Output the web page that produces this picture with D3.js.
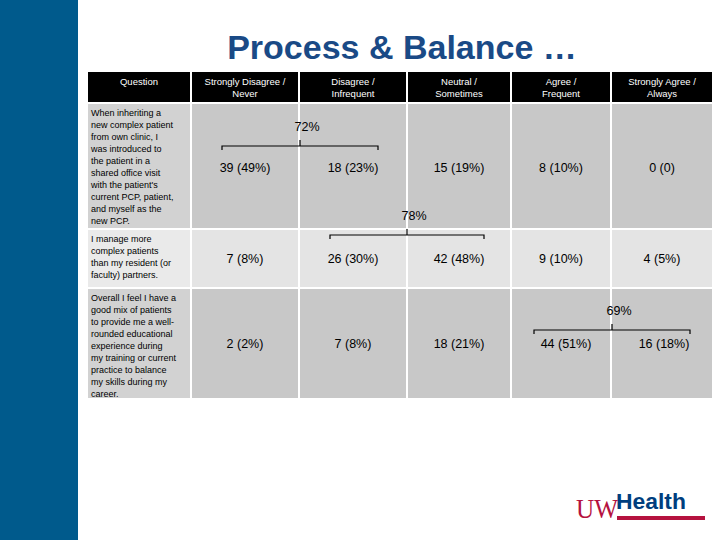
<!DOCTYPE html><html><head><meta charset="utf-8">
<script src="https://cdn.jsdelivr.net/npm/d3@7"></script>
<style>body{margin:0;background:#fff}</style></head><body>
<svg id="c" width="720" height="540"></svg>
<script>
const headers=["Question","Strongly Disagree / Never","Disagree / Infrequent","Neutral / Sometimes","Agree / Frequent","Strongly Agree / Always"];
const questions=[
["When inheriting a","new complex patient","from own clinic, I","was introduced to","the patient in a","shared office visit","with the patient's","current PCP, patient,","and myself as the","new PCP."],
["I manage more","complex patients","than my resident (or","faculty) partners."],
["Overall I feel I have a","good mix of patients","to provide me a well-","rounded educational","experience during","my training or current","practice to balance","my skills during my","career."]];
const values=[["39 (49%)","18 (23%)","15 (19%)","8 (10%)","0 (0)"],["7 (8%)","26 (30%)","42 (48%)","9 (10%)","4 (5%)"],["2 (2%)","7 (8%)","18 (21%)","44 (51%)","16 (18%)"]];
const brackets=[{row:0,from:0,to:1,label:"72%"},{row:1,from:1,to:2,label:"78%"},{row:2,from:3,to:4,label:"69%"}];
const colEdges=[88,192,300,408,512,612,714];
const rowEdges=[72,104,230,289,400];
const rowFill=["#c8c8c8","#e4e4e4","#c8c8c8"];
const svg=d3.select("#c");
const F="Arial, 'Liberation Sans', sans-serif";
svg.append("rect").attr("x",0).attr("y",0).attr("width",78).attr("height",540).attr("fill","#005a8c");
svg.append("text").attr("x",402).attr("y",59).attr("text-anchor","middle").attr("font-family",F).attr("font-weight","bold").attr("font-size",34).attr("fill","#1a4a86").text("Process & Balance …");
const x=i=>colEdges[i];
headers.forEach((h,i)=>{
 svg.append("rect").attr("x",x(i)).attr("y",rowEdges[0]).attr("width",x(i+1)-x(i)-2).attr("height",rowEdges[1]-rowEdges[0]-2).attr("fill","#000");
 const parts=h.includes(" / ")?[h.split(" / ")[0]+" /",h.split(" / ")[1]]:[h];
 const cx=(x(i)+x(i+1)-2)/2;
 parts.forEach((p,j)=>svg.append("text").attr("x",cx).attr("y",parts.length==1?85:85+j*12).attr("text-anchor","middle").attr("font-family",F).attr("font-size",9.5).attr("fill","#fff").text(p));
});
questions.forEach((q,r)=>{
 const y0=rowEdges[r+1],y1=rowEdges[r+2]-2;
 svg.append("rect").attr("x",x(0)).attr("y",y0).attr("width",x(1)-x(0)-2).attr("height",y1-y0).attr("fill",r==1?"#eaeaea":"#d2d2d2");
 q.forEach((l,j)=>svg.append("text").attr("x",x(0)+3).attr("y",y0+12+j*12).attr("font-family",F).attr("font-size",9).attr("fill","#000").text(l));
 values[r].forEach((v,c)=>{
  svg.append("rect").attr("x",x(c+1)).attr("y",y0).attr("width",x(c+2)-x(c+1)-2).attr("height",y1-y0).attr("fill",rowFill[r]);
 });
});
const vy=[172,263,348];
values.forEach((row,r)=>row.forEach((v,c)=>{
 let cx=(x(c+1)+x(c+2)-2)/2;
 if(r==2&&c==3)cx=566; if(r==2&&c==4)cx=664;
 svg.append("text").attr("x",cx).attr("y",vy[r]).attr("text-anchor","middle").attr("font-family",F).attr("font-size",12.5).attr("fill","#000").text(v);
}));
const by=[146,235,330];
brackets.forEach(b=>{
 const cA=(x(b.from+1)+x(b.from+2))/2, cB=(x(b.to+1)+x(b.to+2))/2;
 const L= b.row==2?534:cA-24, R= b.row==2?690:cB+24;
 const mid=(L+R)/2, y=by[b.row];
 svg.append("path").attr("d",`M${L},${y+4}V${y}H${R}V${y+4}M${mid},${y}V${y-6}`).attr("stroke","#000").attr("stroke-width",1.2).attr("fill","none");
 svg.append("text").attr("x",mid+7).attr("y",y-15).attr("text-anchor","middle").attr("font-family",F).attr("font-size",12.5).text(b.label);
});
svg.append("text").attr("x",576).attr("y",518).attr("font-family","'Liberation Serif',serif").attr("font-size",28).attr("fill","#b5123f").attr("textLength",42).attr("lengthAdjust","spacingAndGlyphs").text("UW");
svg.append("text").attr("x",616).attr("y",509).attr("font-family",F).attr("font-weight","bold").attr("font-size",22).attr("fill","#003e7e").attr("textLength",70).attr("lengthAdjust","spacingAndGlyphs").text("Health");
svg.append("rect").attr("x",617).attr("y",516).attr("width",88).attr("height",4).attr("fill","#b5123f");
</script></body></html>
